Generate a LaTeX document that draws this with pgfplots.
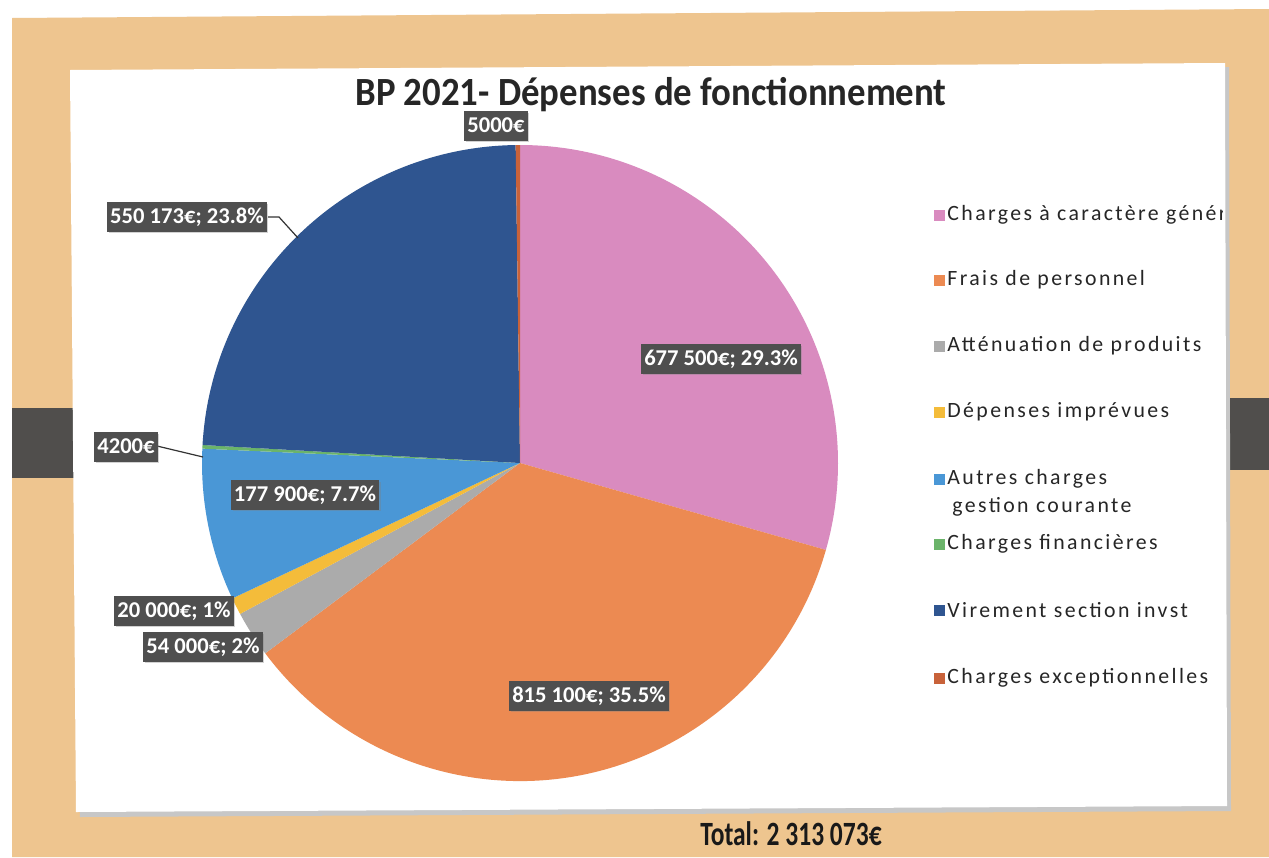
\documentclass[border=0pt]{standalone}
\usepackage{pgfplots}
\pgfplotsset{compat=1.18}
\usepackage{pgfplotstable}
\usepackage{fontspec}
\setmainfont{Carlito}
\newfontfamily\legfont[LetterSpace=11]{Carlito}
\usetikzlibrary{shadows}

\definecolor{tan}{HTML}{EEC58F}
\definecolor{barc}{HTML}{504E4C}
\definecolor{lbl}{HTML}{4F4F4F}
\definecolor{c0}{HTML}{D98BBF}
\definecolor{c1}{HTML}{EC8A52}
\definecolor{c2}{HTML}{ABABAB}
\definecolor{c3}{HTML}{F4BC3A}
\definecolor{c4}{HTML}{4A97D6}
\definecolor{c5}{HTML}{6BB46A}
\definecolor{c6}{HTML}{2F5590}
\definecolor{c7}{HTML}{C8623A}

% BP 2021 - Dépenses de fonctionnement (EUR)
\pgfplotstableread{
value
677500
815100
54000
20000
177900
4200
550173
5000
}\piedata

\newcommand\legentry[3]{%
  \fill[#1] (axis cs:934,#2-5.5) rectangle (axis cs:945,#2+5.5);
  \node[legtext] at (axis cs:947,#2) {#3};}

\begin{document}
% cumulative angles (clockwise from 12 o'clock)
\def\total{0}%
\pgfplotsforeachungrouped \i in {0,...,7}{%
  \pgfplotstablegetelem{\i}{value}\of\piedata
  \xdef\total{\fpeval{\total+\pgfplotsretval}}}%
\def\cum{0}%
\pgfplotsforeachungrouped \i in {0,...,7}{%
  \pgfplotstablegetelem{\i}{value}\of\piedata
  \expandafter\xdef\csname s\i\endcsname{\fpeval{90-\cum*360/\total}}%
  \xdef\cum{\fpeval{\cum+\pgfplotsretval}}%
  \expandafter\xdef\csname e\i\endcsname{\fpeval{90-\cum*360/\total}}}%
\begin{tikzpicture}[
  labelbox/.style={fill=lbl, text=white, font=\bfseries\fontsize{11.3}{12}\selectfont,
    inner xsep=1.5pt, inner ysep=3pt, text height=7.4pt, text depth=1.4pt,
    drop shadow={shadow xshift=0.8pt, shadow yshift=-0.8pt, opacity=0.35}},
  legtext/.style={anchor=west, inner sep=0pt, font=\legfont\fontsize{10.9}{12.5}\selectfont, text=black!85},
]
\begin{axis}[
  scale only axis, width=634.5pt, height=428.5pt,
  xmin=0, xmax=1269, ymin=0, ymax=857, y dir=reverse,
  hide axis, clip=false,
]
% photo background
\fill[white] (axis cs:0,0) rectangle (axis cs:1269,857);
\fill[tan] (axis cs:12,18) -- (axis cs:1269,9) -- (axis cs:1269,857) -- (axis cs:12,857) -- cycle;
\fill[barc] (axis cs:12,408) rectangle (axis cs:75,478);
\fill[barc] (axis cs:1223,398) rectangle (axis cs:1269,470);
% slide with shadow
\fill[black!22] (axis cs:72,74) -- (axis cs:1229,67) -- (axis cs:1231,811) -- (axis cs:80,817) -- cycle;
\fill[white] (axis cs:70,70) -- (axis cs:1225,63) -- (axis cs:1227,806) -- (axis cs:76,812) -- cycle;
% title
\node[font=\bfseries\fontsize{20}{24}\selectfont, text=black!85] at (axis cs:651,95) {\scalebox{0.92}[1]{BP 2021- Dépenses de fonctionnement}};
% pie slices
\pgfplotsinvokeforeach{0,...,7}{%
  \fill[c#1] (axis cs:520,463) -- ++(\csname s#1\endcsname:159pt)
     arc[start angle=\csname s#1\endcsname, end angle=\csname e#1\endcsname, radius=159pt] -- cycle;
}
% leader lines
\draw[black!80, line width=0.6pt] (axis cs:268,217) -- (axis cs:279,217) -- (axis cs:298,238);
\draw[black!80, line width=0.6pt] (axis cs:157,446) -- (axis cs:203,457);
% data labels
\node[labelbox] at (axis cs:496,126) {5000€};
\node[labelbox] at (axis cs:187,217) {550 173€; 23.8\%};
\node[labelbox] at (axis cs:721,359) {677 500€; 29.3\%};
\node[labelbox] at (axis cs:126,447) {4200€};
\node[labelbox] at (axis cs:305,495) {177 900€; 7.7\%};
\node[labelbox] at (axis cs:174,611) {20 000€; 1\%};
\node[labelbox] at (axis cs:203,647) {54 000€; 2\%};
\node[labelbox] at (axis cs:589,696) {815 100€; 35.5\%};
% legend
\begin{scope}
\clip (axis cs:900,150) rectangle (axis cs:1222,760);
\legentry{c0}{215}{Charges à caractère général}
\legentry{c1}{280}{Frais de personnel}
\legentry{c2}{346}{Atténuation de produits}
\legentry{c3}{412}{Dépenses imprévues}
\legentry{c4}{479}{Autres charges}
\node[legtext] at (axis cs:952,507) {gestion courante};
\legentry{c5}{544}{Charges financières}
\legentry{c6}{610}{Virement section invst}
\legentry{c7}{678}{Charges exceptionnelles}
\end{scope}
% total
\node[font=\bfseries\fontsize{17}{20}\selectfont, text=black!90] at (axis cs:791,834) {\scalebox{0.75}[1]{Total: 2 313 073€}};
\end{axis}
\end{tikzpicture}
\end{document}
